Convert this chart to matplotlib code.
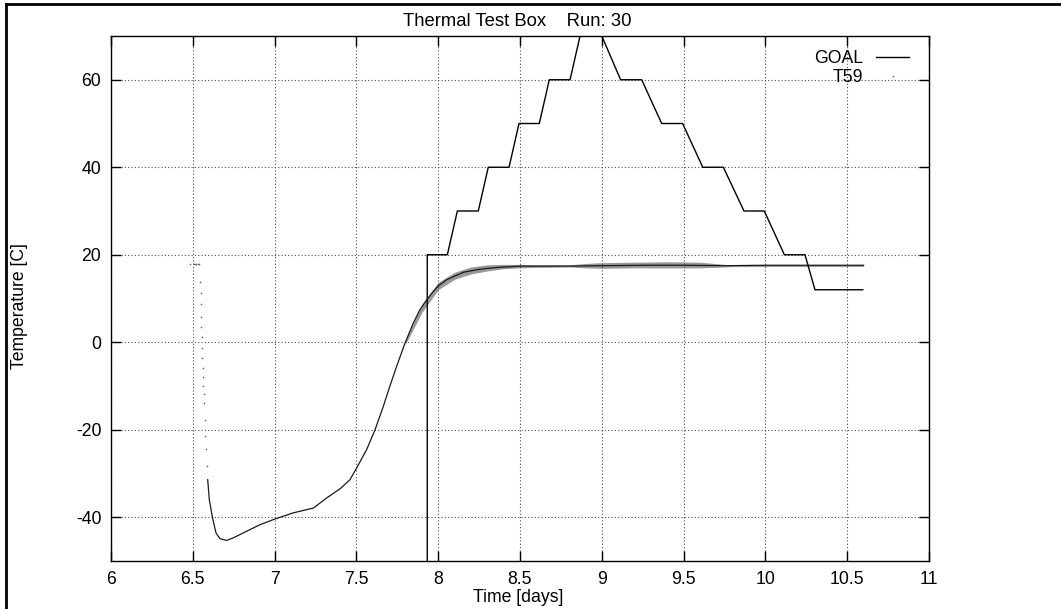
import numpy as np
import matplotlib.pyplot as plt
from matplotlib.lines import Line2D
from matplotlib.ticker import FuncFormatter

plt.rcParams['font.family'] = ['Liberation Sans', 'DejaVu Sans']
plt.rcParams['font.size'] = 12.7
plt.rcParams['axes.unicode_minus'] = False

# goal setpoint (days, C)
goal_days = [7.933, 7.933, 8.056, 8.117, 8.245, 8.306, 8.433, 8.494, 8.618, 8.679, 8.806, 8.867, 9.0,
             9.115, 9.244, 9.366, 9.494, 9.617, 9.743, 9.869, 9.993, 10.116, 10.242, 10.303, 10.595]
goal_temp = [-100, 20, 20, 30, 30, 40, 40, 50, 50, 60, 60, 70, 70,
             60, 60, 50, 50, 40, 40, 30, 30, 20, 20, 12, 12]

# T59 sensor, first part (sparse dots while it drops fast)
drop_days = [6.48, 6.505, 6.513, 6.521, 6.529, 6.537, 6.544, 6.548, 6.549, 6.550, 6.552, 6.554,
             6.556, 6.558, 6.560, 6.562, 6.564, 6.567, 6.568, 6.573, 6.576, 6.581, 6.585]
drop_temp = [18.0, 18.0, 18.0, 18.0, 18.0, 18.0, 13.8, 11.3, 8.8, 5.8, 3.5, 1.2,
             -1.4, -3.6, -5.9, -7.9, -9.9, -11.9, -13.9, -17.7, -21.5, -24.5, -28.3]

# T59 sensor, rest of the run
t59_days = [6.591, 6.601, 6.615, 6.625, 6.642, 6.666, 6.707, 6.748, 6.829, 6.911,
            7.002, 7.114, 7.237, 7.318, 7.40, 7.461, 7.502, 7.563, 7.614, 7.665,
            7.705, 7.746, 7.797, 7.848, 7.889, 7.930, 7.970, 8.001, 8.052, 8.154,
            8.256, 8.358, 8.50, 8.765, 9.0, 9.275, 9.5, 9.763, 10.0, 10.3, 10.6]
t59_temp = [-31.4, -36.0, -39.0, -40.9, -43.6, -44.9, -45.3, -44.7, -43.2, -41.7,
            -40.4, -39.0, -37.9, -35.6, -33.5, -31.4, -28.7, -24.5, -20.0, -14.6,
            -10.0, -5.5, -0.2, 4.4, 7.5, 9.7, 11.6, 12.9, 14.3, 16.0,
            16.7, 17.1, 17.4, 17.4, 17.5, 17.6, 17.6, 17.5, 17.6, 17.6, 17.6]

# scatter of the T59 readings once it settles (low / high edge)
band_days = [7.80, 7.90, 8.0, 8.1, 8.2, 8.3, 8.4, 8.5, 8.6, 8.8, 8.9, 9.0, 9.2, 9.4, 9.6, 9.75, 9.8, 10.6]
band_low = [-0.5, 6.8, 12.0, 14.4, 15.6, 16.3, 16.8, 17.0, 17.1, 17.2, 17.0, 16.9, 17.0, 17.0, 17.0, 17.2, 17.3, 17.3]
band_high = [0.5, 8.6, 13.7, 16.0, 17.2, 17.7, 17.8, 17.8, 17.7, 17.7, 18.0, 18.2, 18.3, 18.4, 18.3, 17.8, 17.7, 17.7]

fig = plt.figure(figsize=(10.61, 6.09), dpi=100)
ax = fig.add_axes([111 / 1061, 1 - 561 / 609, 818 / 1061, 525 / 609])

ax.plot(goal_days, goal_temp, color='black', linewidth=1, label='GOAL')
ax.fill_between(band_days, band_low, band_high, color='0.6', linewidth=0)
ax.plot(t59_days, t59_temp, color='0.1', linewidth=0.9)
ax.plot(drop_days, drop_temp, linestyle='none', marker='o', markersize=1.2,
        markeredgewidth=0, color='0.4', label='T59')

ax.set_xlim(6, 11)
ax.set_ylim(-50, 70)
ax.set_xticks(np.arange(6, 11.01, 0.5))
ax.set_yticks(np.arange(-40, 61, 20))
ax.xaxis.set_major_formatter(FuncFormatter(lambda v, p: '%g' % v))
ax.tick_params(direction='in', length=7, width=1, top=True, right=True, pad=7)
ax.grid(True, linestyle=(0, (1, 2)), color='0.3', linewidth=0.8)
for s in ax.spines.values():
    s.set_linewidth(1)

leg = ax.legend(loc='upper right', bbox_to_anchor=(1 - 20 / 818, 1 - 14 / 525), frameon=False,
                markerfirst=False, handlelength=1.87, handletextpad=0.74, labelspacing=0.1,
                borderpad=0, borderaxespad=0)

fig.text(517 / 1061, 1 - 21 / 609, 'Thermal Test Box    Run: 30', ha='center', va='center', fontsize=13.3)
fig.text(518 / 1061, 1 - 597 / 609, 'Time [days]', ha='center', va='center')
fig.text(20 / 1061, 1 - 306 / 609, 'Temperature [C]', ha='center', va='center', rotation=90)

# outer frame (only top and left edges show)
fig.add_artist(Line2D([6 / 1061, 1], [1 - 4 / 609] * 2, transform=fig.transFigure, color='black', linewidth=2))
fig.add_artist(Line2D([6 / 1061] * 2, [0, 1 - 4 / 609], transform=fig.transFigure, color='black', linewidth=2))

fig.savefig('out.png', dpi=100)
